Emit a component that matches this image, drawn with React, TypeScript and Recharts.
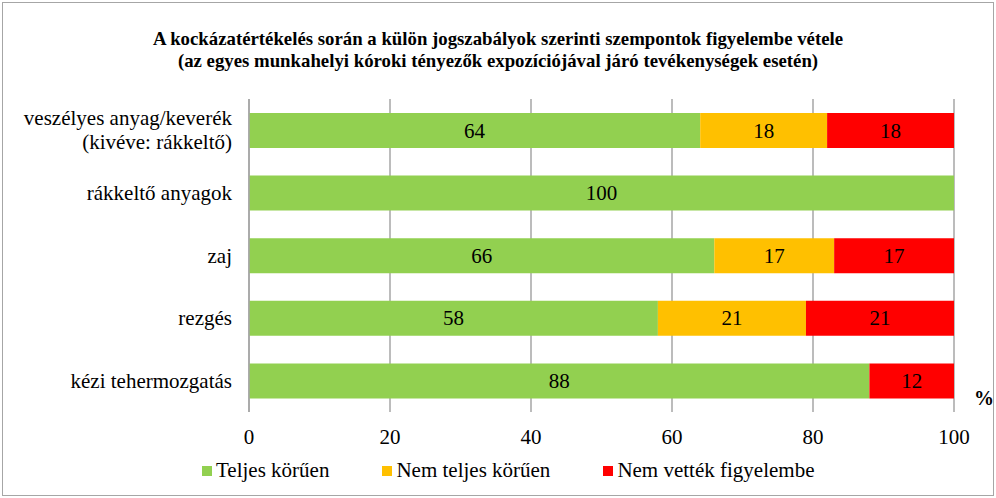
import {
  BarChart,
  Bar,
  XAxis,
  YAxis,
  CartesianGrid,
  LabelList,
} from 'recharts'

const FONT = '"Liberation Serif", "Times New Roman", serif'

const categories = [
  'veszélyes anyag/keverék\n(kivéve: rákkeltő)',
  'rákkeltő anyagok',
  'zaj',
  'rezgés',
  'kézi tehermozgatás',
]
const teljes = [64, 100, 66, 58, 88]
const nemTeljes = [18, 0, 17, 21, 0]
const nemVettek = [18, 0, 17, 21, 12]
const xTicks = [0, 20, 40, 60, 80, 100]

const SERIES = [
  { key: 'teljes', name: 'Teljes körűen', color: '#92D050' },
  { key: 'nemTeljes', name: 'Nem teljes körűen', color: '#FFC000' },
  { key: 'nemVettek', name: 'Nem vették figyelembe', color: '#FF0000' },
]

const chartData = categories.map((name, i) => ({
  name,
  teljes: teljes[i],
  nemTeljes: nemTeljes[i],
  nemVettek: nemVettek[i],
}))

function CategoryTick({ x, y, payload }: any) {
  const lines = String(payload.value).split('\n')
  const lineH = 24
  const start = y - ((lines.length - 1) * lineH) / 2 + 7
  return (
    <text x={x - 9} y={start} textAnchor="end" fontFamily={FONT} fontSize={21} fill="#000">
      {lines.map((l, i) => (
        <tspan key={i} x={x - 9} y={start + i * lineH}>
          {l}
        </tspan>
      ))}
    </text>
  )
}

function NumberTick({ x, y, payload }: any) {
  return (
    <text x={x} y={y + 32} textAnchor="middle" fontFamily={FONT} fontSize={21} fill="#000">
      {payload.value}
    </text>
  )
}

function ValueLabel({ x, y, width, height, value }: any) {
  if (!value) return null
  return (
    <text
      x={x + width / 2}
      y={y + height / 2 + 7}
      textAnchor="middle"
      fontFamily={FONT}
      fontSize={21}
      fill="#000"
    >
      {value}
    </text>
  )
}

export default function App() {
  return (
    <div style={{ position: 'absolute', left: 0, top: 0, width: 996, height: 498, background: '#fff' }}>
      <div
        style={{
          position: 'absolute',
          left: 2,
          top: 2,
          width: 990,
          height: 492,
          border: '1px solid #A6A6A6',
        }}
      />
      <div
        style={{
          position: 'absolute',
          left: 0,
          top: 28,
          width: 996,
          textAlign: 'center',
          fontFamily: FONT,
          fontWeight: 'bold',
          fontSize: 18.8,
          lineHeight: '22px',
        }}
      >
        A kockázatértékelés során a külön jogszabályok szerinti szempontok figyelembe vétele
        <br />
        (az egyes munkahelyi kóroki tényezők expozíciójával járó tevékenységek esetén)
      </div>
      <div
        style={{
          position: 'absolute',
          left: 974,
          top: 387,
          fontFamily: FONT,
          fontWeight: 'bold',
          fontSize: 20,
        }}
      >
        %
      </div>
      <div
        style={{
          position: 'absolute',
          left: 202,
          top: 458,
          display: 'flex',
          gap: 53,
          fontFamily: FONT,
          fontSize: 21,
        }}
      >
        {SERIES.map((s) => (
          <div key={s.key} style={{ display: 'flex', alignItems: 'center' }}>
            <span style={{ width: 10, height: 10, background: s.color, marginRight: 4 }} />
            <span>{s.name}</span>
          </div>
        ))}
      </div>
      <BarChart
        width={996}
        height={498}
        data={chartData}
        layout="vertical"
        margin={{ top: 99, right: 42, left: 0, bottom: 0 }}
        barSize={35}
      >
        <CartesianGrid horizontal={false} vertical stroke="#A6A6A6" strokeWidth={1.5} />
        <XAxis
          type="number"
          domain={[0, 100]}
          ticks={xTicks}
          axisLine={false}
          tickLine={false}
          tickSize={0}
          tickMargin={0}
          height={86}
          tick={<NumberTick />}
        />
        <YAxis
          type="category"
          dataKey="name"
          width={249}
          axisLine={{ stroke: '#A6A6A6', strokeWidth: 1.5 }}
          tickLine={false}
          tick={<CategoryTick />}
        />
        {SERIES.map((s) => (
          <Bar
            key={s.key}
            dataKey={s.key}
            name={s.name}
            stackId="a"
            fill={s.color}
            isAnimationActive={false}
          >
            <LabelList dataKey={s.key} content={<ValueLabel />} />
          </Bar>
        ))}
      </BarChart>
    </div>
  )
}
